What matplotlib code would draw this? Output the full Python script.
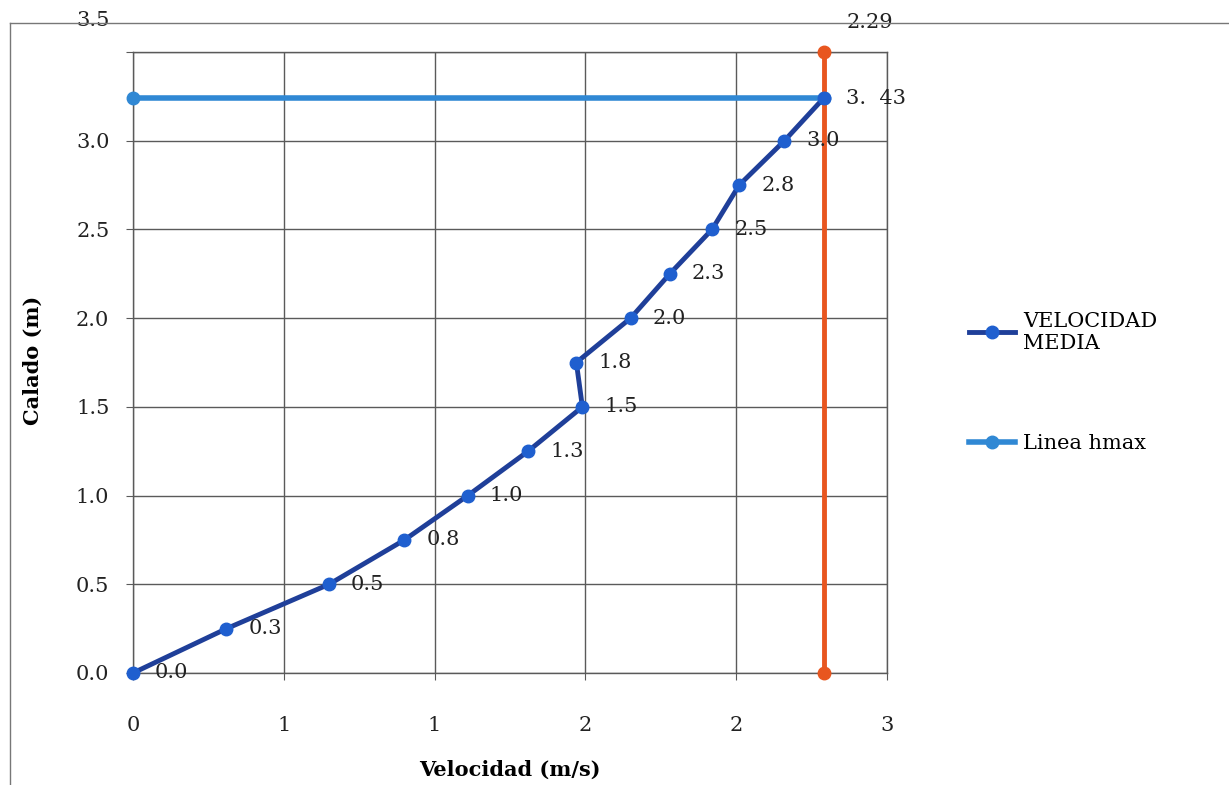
import matplotlib
matplotlib.use('Agg')
import matplotlib.pyplot as plt
from matplotlib.lines import Line2D

# data
calado = [0.0, 0.25, 0.5, 0.75, 1.0, 1.25, 1.5, 1.75, 2.0, 2.25, 2.5, 2.75, 3.0, 3.24]
velocidad = [0.0, 0.31, 0.65, 0.90, 1.11, 1.31, 1.49, 1.47, 1.65, 1.78, 1.92, 2.01, 2.16, 2.29]
etiquetas = ['0.0', '0.3', '0.5', '0.8', '1.0', '1.3', '1.5', '1.8', '2.0', '2.3', '2.5', '2.8', '3.0', '3.  43']
hmax_v = [0.0, 2.29]
hmax_h = [3.24, 3.24]
vmax_v = [2.29, 2.29]
vmax_h = [0.0, 3.5]
xticks = [0, 0.5, 1.0, 1.5, 2.0, 2.5]
xticklabels = ['0', '1', '1', '2', '2', '3']
yticks = [0.0, 0.5, 1.0, 1.5, 2.0, 2.5, 3.0, 3.5]

plt.rcParams['font.family'] = 'DejaVu Serif'
grid_col = '#5a5a5a'
fs = 15

fig = plt.figure(figsize=(12.29, 7.85), dpi=100)
ax = fig.add_axes([133/1229, 1-673/785, 754/1229, 621/785])

# outer chart frame (left and top edges visible)
fig.add_artist(Line2D([10/1229, 10/1229], [0, 1-23/785], transform=fig.transFigure, color='#777777', lw=1))
fig.add_artist(Line2D([10/1229, 1], [1-23/785, 1-23/785], transform=fig.transFigure, color='#777777', lw=1))

# series
ax.plot(hmax_v, hmax_h, color='#3088d4', lw=4, marker='o', ms=9, mfc='#3088d4', mec='#3088d4',
        clip_on=False, zorder=3, label='Linea hmax')
ax.plot(vmax_v, vmax_h, color='#e8561f', lw=3.5, marker='o', ms=9, mfc='#e8561f', mec='#e8561f',
        clip_on=False, zorder=3)
ax.plot(velocidad, calado, color='#1f3f99', lw=3.5, marker='o', ms=9, mfc='#1f5fcf', mec='#1f5fcf',
        clip_on=False, zorder=4, label='VELOCIDAD\nMEDIA')

for v, h, t in zip(velocidad, calado, etiquetas):
    ax.annotate(t, xy=(v, h), xytext=(22, 0), textcoords='offset pixels',
                ha='left', va='center', fontsize=fs, color='#222222', zorder=5)
ax.annotate('2.29', xy=(vmax_v[1], vmax_h[1]), xytext=(46, 30), textcoords='offset pixels',
            ha='center', va='center', fontsize=fs, color='#222222')

# axes
ax.set_xlim(0, 2.5)
ax.set_ylim(0, 3.5)
ax.set_xticks(xticks)
ax.set_xticklabels(xticklabels)
ax.set_yticks(yticks)
ax.set_yticklabels([f'{y:.1f}' for y in yticks[:-1]] + [''])
ax.annotate('3.5', xy=(0, 3.5), xytext=(-23, 32), textcoords='offset pixels',
            ha='right', va='center', fontsize=fs, color='#222222')
ax.tick_params(axis='both', direction='out', length=5, color=grid_col, labelsize=fs, labelcolor='#222222')
ax.tick_params(axis='x', pad=26)
ax.tick_params(axis='y', pad=12)
ax.grid(True, color=grid_col, lw=1)
for s in ax.spines.values():
    s.set_color(grid_col)
    s.set_linewidth(1)

ax.set_xlabel('Velocidad (m/s)', fontsize=fs, fontweight='bold')
ax.set_ylabel('Calado (m)', fontsize=fs, fontweight='bold')
ax.xaxis.set_label_coords(0.5, -0.14)
ax.yaxis.set_label_coords(-0.12, 0.504)

handles, labels = ax.get_legend_handles_labels()
ax.legend(handles[::-1], labels[::-1], loc='upper left', bbox_to_anchor=(950/1229, 1-293/785),
          bbox_transform=fig.transFigure, frameon=False, fontsize=fs, handlelength=2.2,
          handletextpad=0.4, labelspacing=3.9)

fig.savefig('out.png', dpi=100)
